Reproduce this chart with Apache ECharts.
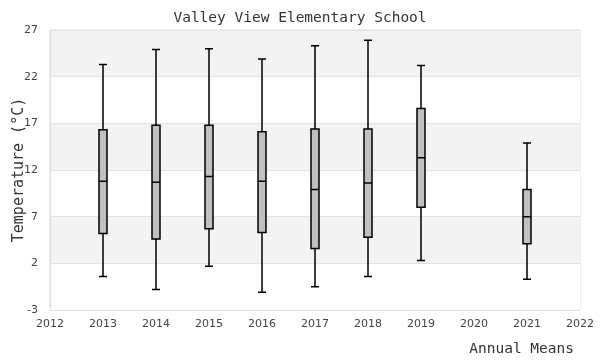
<!DOCTYPE html>
<html><head><meta charset="utf-8">
<script src="https://cdn.jsdelivr.net/npm/echarts@6/dist/echarts.min.js"></script>
<style>html,body{margin:0;padding:0;background:#fff}#c{width:600px;height:360px}</style>
</head><body><div id="c"></div>
<script>
const years = [2013, 2014, 2015, 2016, 2017, 2018, 2019, 2021];
const mins    = [0.6, -0.8, 1.7, -1.1, -0.5, 0.6, 2.3, 0.3];
const q1s     = [5.2, 4.6, 5.7, 5.3, 3.6, 4.8, 8.0, 4.1];
const medians = [10.8, 10.7, 11.3, 10.8, 9.9, 10.6, 13.3, 7.0];
const q3s     = [16.3, 16.8, 16.8, 16.1, 16.4, 16.4, 18.6, 9.9];
const maxs    = [23.3, 24.9, 25.0, 23.9, 25.3, 25.9, 23.2, 14.9];
const yTicks = [-3, 2, 7, 12, 17, 22, 27];
const titleText = 'Valley View Elementary School';
const xTitle = 'Annual Means';
const yTitle = 'Temperature (°C)';

const boxData = years.map((y, i) => [y, mins[i], q1s[i], medians[i], q3s[i], maxs[i]]);
const chart = echarts.init(document.getElementById('c'));
chart.setOption({
  animation: false,
  title: [
    {text: titleText, left: 'center', top: 6,
     textStyle: {fontFamily: 'DejaVu Sans Mono', fontSize: 14.5, fontWeight: 'normal', color: '#333'}},
    {text: xTitle, right: 21, top: 337,
     textStyle: {fontFamily: 'DejaVu Sans Mono', fontSize: 14.5, fontWeight: 'normal', color: '#333'}}
  ],
  grid: {left: 50, right: 20, top: 30, bottom: 50, show: true, borderColor: '#dddddd', borderWidth: 1,
         backgroundColor: 'transparent', outerBoundsMode: 'none', containLabel: false},
  xAxis: {
    type: 'value', min: 2012, max: 2022, interval: 1,
    axisLine: {show: true, onZero: false, lineStyle: {color: '#dddddd'}},
    axisTick: {show: false},
    splitLine: {show: false},
    axisLabel: {color: '#444', fontSize: 11, fontFamily: 'DejaVu Sans', margin: 9, formatter: v => String(v)}
  },
  yAxis: {
    type: 'value', min: yTicks[0], max: yTicks[yTicks.length - 1], interval: 5,
    name: yTitle, nameLocation: 'middle', nameGap: 23, nameMoveOverlap: false,
    nameTextStyle: {fontFamily: 'DejaVu Sans Mono', fontSize: 15, color: '#333'},
    axisLine: {show: true, onZero: false, lineStyle: {color: '#dddddd'}},
    axisTick: {show: false},
    splitLine: {show: true, lineStyle: {color: '#e2e2e2', width: 1}},
    splitArea: {show: true, areaStyle: {color: ['#ffffff', '#f3f3f3']}},
    axisLabel: {color: '#444', fontSize: 11, fontFamily: 'DejaVu Sans', margin: 12}
  },
  series: [{
    type: 'boxplot',
    data: boxData,
    boxWidth: [8, 8],
    itemStyle: {color: '#c0c0c0', borderColor: '#000', borderWidth: 1.5},
    emphasis: {disabled: true}
  }]
});
</script></body></html>
